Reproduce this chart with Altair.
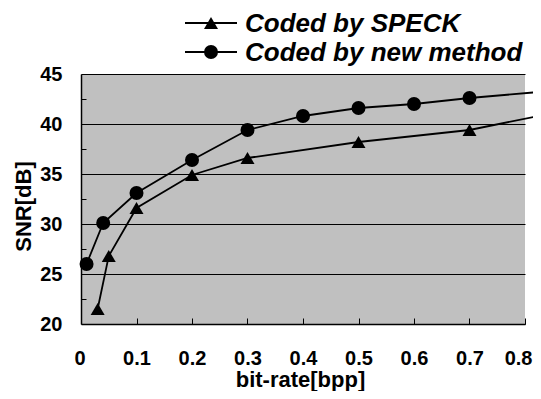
import altair as alt
import pandas as pd

# ---- data ----
speck_x = [0.03, 0.05, 0.1, 0.2, 0.3, 0.5, 0.7]
speck_snr = [21.5, 26.8, 31.6, 34.9, 36.6, 38.2, 39.4]
new_x = [0.01, 0.04, 0.1, 0.2, 0.3, 0.4, 0.5, 0.6, 0.7]
new_snr = [26.0, 30.1, 33.1, 36.4, 39.4, 40.8, 41.6, 42.0, 42.6]
# lines continue (without marker) a little past the last tick
end_x = 0.815
speck_end = 40.7
new_end = 43.15

series_names = ["Coded by SPECK", "Coded by new method"]
y_ticks = [20, 25, 30, 35, 40, 45]
y_minor = [22.5, 27.5, 32.5, 37.5, 42.5]
x_ticks = [0, 0.1, 0.2, 0.3, 0.4, 0.5, 0.6, 0.7, 0.8]

pts = pd.DataFrame({
    "x": speck_x + new_x,
    "snr": speck_snr + new_snr,
    "series": [series_names[0]] * len(speck_x) + [series_names[1]] * len(new_x),
})
lines = pd.DataFrame({
    "x": speck_x + [end_x] + new_x + [end_x],
    "snr": speck_snr + [speck_end] + new_snr + [new_end],
    "series": [series_names[0]] * (len(speck_x) + 1) + [series_names[1]] * (len(new_x) + 1),
})

W, H = 444, 250
xscale = alt.Scale(domain=[0, 0.8], nice=False, zero=False)
yscale = alt.Scale(domain=[20, 45], nice=False, zero=False)

FONT = "Liberation Sans"
lab = dict(labelFont=FONT, labelFontSize=20, labelFontWeight="bold", labelColor="black",
           titleFont=FONT, titleFontSize=22, titleFontWeight="bold", titleColor="black")

x_axis = alt.Axis(values=x_ticks, format="~g", orient="bottom", ticks=False, tickSize=0,
                  labelPadding=24, grid=False, domainColor="black", domainWidth=1.5,
                  title="bit-rate[bpp]", titleX=219, titleY=62, titleAlign="center",
                  titleBaseline="alphabetic", labelFlush=True, labelFlushOffset=7, **lab)
y_axis = alt.Axis(values=y_ticks, orient="left", ticks=False, tickSize=0, labelPadding=19,
                  grid=True, gridColor="black", gridWidth=1, gridOpacity=1,
                  domainColor="black", domainWidth=1.5,
                  title="SNR[dB]", titleX=-58, titleY=132, titleAngle=270,
                  titleAlign="center", titleBaseline="middle", **lab)

line_layer = alt.Chart(lines).mark_line(color="black", strokeWidth=1.8, clip=False).encode(
    x=alt.X("x:Q", scale=xscale, axis=x_axis),
    y=alt.Y("snr:Q", scale=yscale, axis=y_axis),
    detail="series:N",
)

point_layer = alt.Chart(pts).mark_point(filled=True, color="black", opacity=1, size=196).encode(
    x=alt.X("x:Q", scale=xscale, axis=None),
    y=alt.Y("snr:Q", scale=yscale, axis=None),
    shape=alt.Shape("series:N", scale=alt.Scale(domain=series_names, range=["triangle-up", "circle"]),
                    legend=None),
)

# inside minor ticks via offset axes
tick_layer = alt.Chart(pts).mark_point(opacity=0).encode(
    x=alt.X("x:Q", scale=xscale,
            axis=alt.Axis(values=x_ticks[1:], orient="bottom", offset=-6, tickSize=6, tickColor="black",
                          tickWidth=1, labels=False, domain=False, grid=False, title=None)),
    y=alt.Y("snr:Q", scale=yscale,
            axis=alt.Axis(values=y_minor, orient="left", offset=-5, tickSize=5, tickColor="black",
                          tickWidth=1, labels=False, domain=False, grid=False, title=None)),
)

one = alt.Data(values=[{}])


def legend_row(label, shape, y_mid, y_base):
    rule = alt.Chart(one).mark_rule(color="black", strokeWidth=1.8).encode(
        x=alt.value(104), x2=alt.value(156), y=alt.value(y_mid))
    mark = alt.Chart(one).mark_point(filled=True, color="black", opacity=1, size=196, shape=shape).encode(
        x=alt.value(130), y=alt.value(y_mid))
    txt = alt.Chart(one).mark_text(align="left", baseline="alphabetic", font=FONT, fontSize=26,
                                   fontWeight="bold", fontStyle="italic", color="black").encode(
        x=alt.value(164), y=alt.value(y_base), text=alt.value(label))
    return [rule, mark, txt]


legend_layers = legend_row(series_names[0], "triangle-up", -51, -42) + \
    legend_row(series_names[1], "circle", -22, -13)

chart = alt.layer(line_layer, point_layer, tick_layer, *legend_layers).resolve_axis(
    x="independent", y="independent"
).properties(
    width=W, height=H,
    autosize=alt.AutoSizeParams(type="none"),
    padding={"left": 73, "top": 66, "right": 8, "bottom": 67},
    background="white",
).configure_view(
    fill="#c0c0c0", stroke=None
)

chart.save("out.html", embed_options={"renderer": "svg", "actions": False})
